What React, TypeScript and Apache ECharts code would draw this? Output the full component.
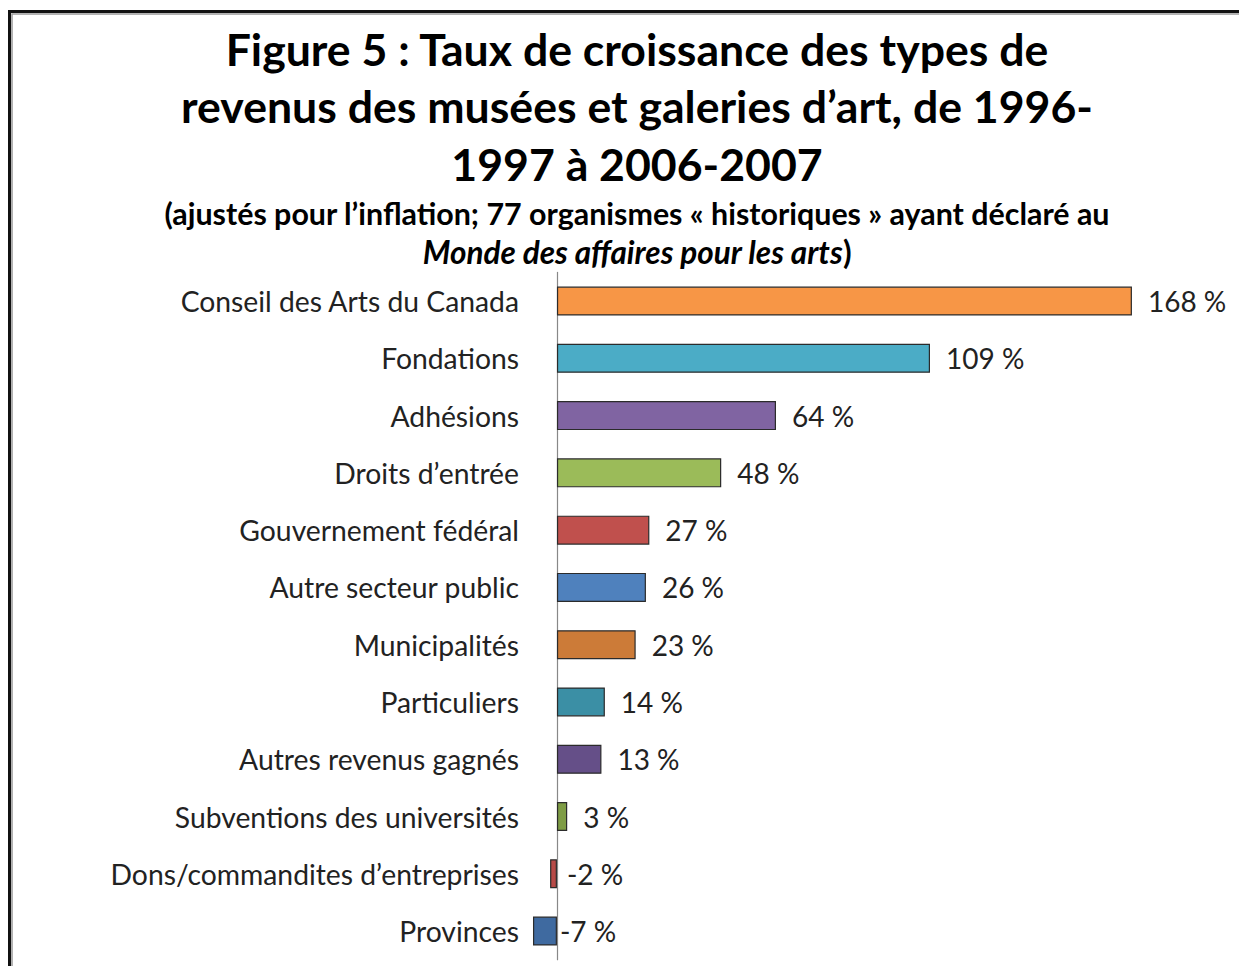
import React, { useEffect, useRef } from "react";
import * as echarts from "echarts";

const categories = [
  "Conseil des Arts du Canada",
  "Fondations",
  "Adhésions",
  "Droits d’entrée",
  "Gouvernement fédéral",
  "Autre secteur public",
  "Municipalités",
  "Particuliers",
  "Autres revenus gagnés",
  "Subventions des universités",
  "Dons/commandites d’entreprises",
  "Provinces",
];
const values = [168, 109, 64, 48, 27, 26, 23, 14, 13, 3, -2, -7];
const barColors = [
  "#F79646", "#4BACC6", "#8064A2", "#9BBB59", "#C0504D", "#4F81BD",
  "#CC7B38", "#3B8FA5", "#654F88", "#7E9C45", "#B84A47", "#3F6AA0",
];
const titleLines = [
  "Figure 5 : Taux de croissance des types de",
  "revenus des musées et galeries d’art, de 1996-",
  "1997 à 2006-2007",
];
const subtitleLine1 = "(ajustés pour l’inflation; 77 organismes « historiques » ayant déclaré au";
const subtitleItalic = "Monde des affaires pour les arts";

const FONT = "Lato, 'Open Sans', sans-serif";

export default function App() {
  const ref = useRef<HTMLDivElement>(null);
  useEffect(() => {
    document.body.style.margin = "0";
    if (!ref.current) return;
    const chart = echarts.init(ref.current, null, { renderer: "svg" });
    const cx = 637;
    chart.setOption({
      animation: false,
      backgroundColor: "#ffffff",
      textStyle: { fontFamily: FONT },
      graphic: [
        { type: "rect", shape: { x: 9.5, y: 11.5, width: 1400, height: 1100 }, style: { fill: "none", stroke: "#111", lineWidth: 3 } },
        { type: "rect", shape: { x: 12, y: 14, width: 1400, height: 1100 }, style: { fill: "none", stroke: "#999", lineWidth: 1.5 } },
        ...titleLines.map((t, i) => ({
          type: "text",
          x: cx,
          y: 48 + i * 57.5,
          style: { text: t, font: `bold 44.6px ${FONT}`, fill: "#000", textAlign: "center", textVerticalAlign: "middle" },
        })),
        {
          type: "text", x: cx, y: 213,
          style: { text: subtitleLine1, font: `bold 30.4px ${FONT}`, fill: "#000", textAlign: "center", textVerticalAlign: "middle" },
        },
        {
          type: "text", x: cx, y: 252,
          style: {
            text: `{i|${subtitleItalic}}{n|)}`,
            textAlign: "center", textVerticalAlign: "middle",
            rich: {
              i: { font: `italic bold 31.5px ${FONT}`, fill: "#000" },
              n: { font: `bold 31.5px ${FONT}`, fill: "#000" },
            },
          },
        },
      ],
      grid: { left: 488.5, width: 684.5, top: 272.4, height: 687.3, containLabel: false },
      xAxis: { type: "value", min: -20, max: 180, show: false },
      yAxis: {
        type: "category",
        inverse: true,
        data: categories,
        axisLine: { show: true, onZero: true, lineStyle: { color: "#888", width: 1.2 } },
        axisTick: { show: false },
        axisLabel: { margin: -30.5, fontSize: 28.3, color: "#222", fontFamily: FONT },
        splitLine: { show: false },
      },
      series: [
        {
          type: "bar",
          barWidth: 29,
          data: values.map((v, i) => ({
            value: v,
            itemStyle: { color: barColors[i], borderColor: "#2b2b2b", borderWidth: 1.2 },
            label: { distance: v < 0 ? (v < -5 ? 3 : 10) : 16 },
          })),
          label: {
            show: true,
            position: "right",
            formatter: (p: any) => `${p.value} %`,
            fontSize: 28,
            color: "#222",
            fontFamily: FONT,
          },
        },
      ],
    });
    return () => chart.dispose();
  }, []);
  return <div ref={ref} style={{ width: 1239, height: 966 }} />;
}
